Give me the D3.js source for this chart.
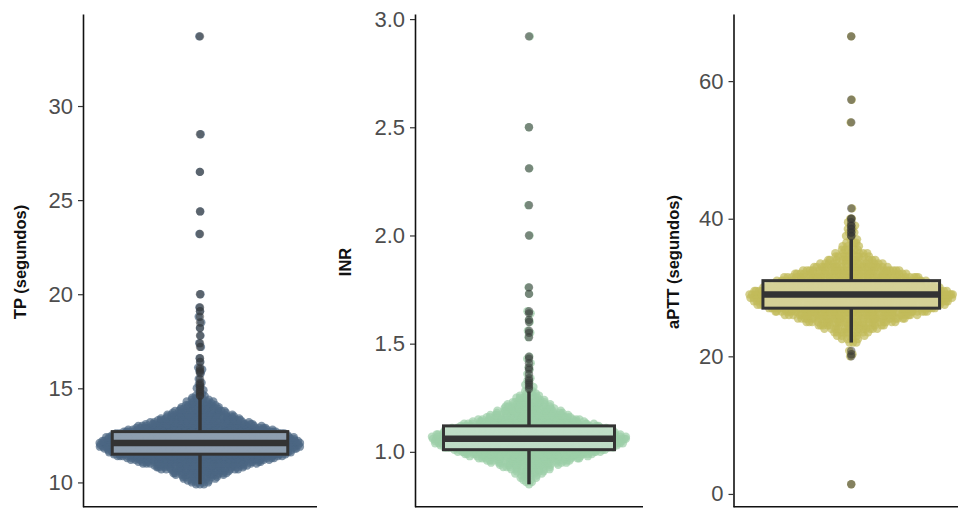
<!DOCTYPE html>
<html>
<head>
<meta charset="utf-8">
<script src="https://cdn.jsdelivr.net/npm/d3@7"></script>
<style>
  body { margin: 0; background: #fff; }
  svg { display: block; font-family: "Liberation Sans", Arial, sans-serif; }
</style>
</head>
<body>
<svg id="chart" width="958" height="509"></svg>
<script>
// ---- TP (segundos): value bins (0.1 s) with counts, plus individual high values
const tpBins = [9.9, 10.0, 10.1, 10.2, 10.3, 10.4, 10.5, 10.6, 10.7, 10.8, 10.9, 11.0, 11.1, 11.2, 11.3, 11.4,
  11.5, 11.6, 11.7, 11.8, 11.9, 12.0, 12.1, 12.2, 12.3, 12.4, 12.5, 12.6,
  12.7, 12.8, 12.9, 13.0, 13.1, 13.2, 13.3, 13.4, 13.5, 13.6, 13.7, 13.8, 13.9, 14.0, 14.1, 14.2, 14.3, 14.4, 14.5];
const tpCounts = [3, 4, 5, 6, 8, 10, 12, 14, 17, 20, 23, 27, 31, 35, 39, 44,
  46, 48, 50, 52, 54, 55, 55, 54, 52, 50, 47, 44,
  41, 37, 33, 29, 26, 23, 20, 18, 16, 14, 12, 10, 9, 8, 7, 6, 5, 4, 3];
const tpExtra = [14.6, 14.6, 14.7, 14.8, 14.9, 15.0, 15.1, 15.2, 15.3, 15.5, 15.8, 15.9, 16.0, 16.1,
  16.4, 16.6, 17.2, 17.4, 17.8, 18.2, 18.5, 18.8, 19.1, 19.3, 20.0, 23.2, 24.4, 26.5, 28.5, 33.7];
const tpTicks = [10, 15, 20, 25, 30];

// ---- INR: value bins (0.01) with counts, plus individual high values
const inrBins = [0.85, 0.86, 0.87, 0.88, 0.89, 0.90, 0.91, 0.92, 0.93, 0.94, 0.95, 0.96, 0.97, 0.98, 0.99, 1.00,
  1.01, 1.02, 1.03, 1.04, 1.05, 1.06, 1.07, 1.08, 1.09, 1.10, 1.11, 1.12,
  1.13, 1.14, 1.15, 1.16, 1.17, 1.18, 1.19, 1.20, 1.21, 1.22, 1.23, 1.24, 1.25, 1.26, 1.27, 1.28];
const inrCounts = [1, 2, 2, 3, 4, 5, 6, 8, 10, 12, 16, 20, 24, 28, 32, 36,
  40, 40, 46, 50, 52, 58, 48, 48, 46, 43, 40, 36,
  30, 26, 23, 20, 17, 15, 13, 11, 10, 9, 7, 6, 5, 4, 3, 2];
const inrExtra = [1.29, 1.30, 1.31, 1.32, 1.33, 1.34, 1.36, 1.38, 1.39, 1.41, 1.43, 1.44, 1.53, 1.55,
  1.56, 1.60, 1.61, 1.64, 1.65, 1.73, 1.76, 2.00, 2.14, 2.31, 2.50, 2.92];
const inrTicks = [1.0, 1.5, 2.0, 2.5, 3.0];

// ---- aPTT (segundos): value bins (0.5 s) with counts, plus individual low/high values
const apttBins = [22.0, 22.5, 23.0, 23.5, 24.0, 24.5, 25.0, 25.5, 26.0, 26.5, 27.0, 27.5, 28.0, 28.5,
  29.0, 29.5, 30.0, 30.5, 31.0, 31.5, 32.0, 32.5, 33.0, 33.5, 34.0, 34.5, 35.0, 35.5, 36.0, 36.5, 37.0];
const apttCounts = [3, 4, 6, 9, 13, 18, 24, 31, 39, 48, 55, 60, 64, 66,
  68, 64, 58, 52, 46, 40, 33, 27, 21, 16, 12, 9, 7, 5, 4, 3, 2];
const apttExtra = [1.4, 20.0, 20.3, 20.8, 37.5, 37.5, 38.0, 38.0, 38.5, 38.5, 39.0, 39.0, 39.5,
  40.0, 40.0, 41.5, 54.0, 57.3, 66.5];
const apttTicks = [0, 20, 40, 60];

const panels = [
  { title: "TP (segundos)", bins: tpBins, counts: tpCounts, extra: tpExtra, ticks: tpTicks,
    fmt: d3.format("d"), color: "#4b6783", left: 83, right: 317, titleX: 26 },
  { title: "INR", bins: inrBins, counts: inrCounts, extra: inrExtra, ticks: inrTicks,
    fmt: d3.format(".1f"), color: "#9ccfa8", left: 415, right: 643, titleX: 350.5 },
  { title: "aPTT (segundos)", bins: apttBins, counts: apttCounts, extra: apttExtra, ticks: apttTicks,
    fmt: d3.format("d"), color: "#c2bb5a", left: 733.5, right: 969, titleX: 678.5 }
];

const panelTop = 14, panelBottom = 506.7;
const svg = d3.select("#chart");

// van der Corput sequence (base 2) used for quasirandom horizontal offsets
function vdc(n) {
  let v = 0, denom = 1;
  while (n > 0) { denom *= 2; v += (n % 2) / denom; n = Math.floor(n / 2); }
  return v;
}

panels.forEach(p => {
  // expand bins into the full sample
  const sample = [];
  p.bins.forEach((b, i) => { for (let k = 0; k < p.counts[i]; k++) sample.push(b); });
  p.extra.forEach(v => sample.push(v));
  sample.sort(d3.ascending);
  const n = sample.length;

  // box statistics (Tukey, 1.5 IQR)
  const q1 = d3.quantile(sample, 0.25), med = d3.quantile(sample, 0.5), q3 = d3.quantile(sample, 0.75);
  const iqr = q3 - q1, eps = 1e-9;
  const loFence = q1 - 1.5 * iqr - eps, hiFence = q3 + 1.5 * iqr + eps;
  const inside = sample.filter(v => v >= loFence && v <= hiFence);
  const wLo = d3.min(inside), wHi = d3.max(inside);
  const outliers = sample.filter(v => v < loFence || v > hiFence);

  // scales
  const [mn, mx] = d3.extent(sample);
  const pad = (mx - mn) * 0.05;
  const y = d3.scaleLinear().domain([mn - pad, mx + pad]).range([panelBottom, panelTop]);
  const x = d3.scaleLinear().domain([0.4, 1.6]).range([p.left, p.right]);
  const unit = x(1) - x(0);
  const cx = x(1);

  // gaussian kernel density (nrd0 bandwidth)
  const sd = d3.deviation(sample);
  const bw = 0.9 * Math.min(sd, iqr / 1.34) * Math.pow(n, -0.2);
  const dens = v => {
    let s = 0;
    for (let i = 0; i < n; i++) { const z = (v - sample[i]) / bw; s += Math.exp(-0.5 * z * z); }
    return s;
  };
  const densCache = new Map();
  sample.forEach(v => { if (!densCache.has(v)) densCache.set(v, dens(v)); });
  const maxDens = d3.max(Array.from(densCache.values()));
  const halfW = 0.52 * unit;

  const pts = sample.map((v, i) => ({
    v,
    dx: (vdc(i + 1) * 2 - 1) * halfW * Math.pow(densCache.get(v) / maxDens, 0.85)
  }));

  const g = svg.append("g");

  // points
  g.append("g").selectAll("circle").data(pts).join("circle")
    .attr("cx", d => cx + d.dx)
    .attr("cy", d => y(d.v))
    .attr("r", 4.2)
    .attr("fill", p.color)
    .attr("fill-opacity", 0.7);

  // boxplot outliers
  g.append("g").selectAll("circle").data(outliers).join("circle")
    .attr("cx", cx).attr("cy", d => y(d)).attr("r", 4.2)
    .attr("fill", "#333333").attr("fill-opacity", 0.5);

  // whiskers
  g.append("line").attr("x1", cx).attr("x2", cx).attr("y1", y(q3)).attr("y2", y(wHi))
    .attr("stroke", "#333333").attr("stroke-width", 3.5);
  g.append("line").attr("x1", cx).attr("x2", cx).attr("y1", y(q1)).attr("y2", y(wLo))
    .attr("stroke", "#333333").attr("stroke-width", 3.5);

  // box
  const bh = 0.45 * unit;
  g.append("rect")
    .attr("x", cx - bh).attr("width", 2 * bh)
    .attr("y", y(q3)).attr("height", y(q1) - y(q3))
    .attr("fill", "#f2f2f2").attr("fill-opacity", 0.4)
    .attr("stroke", "#333333").attr("stroke-width", 3);
  g.append("line").attr("x1", cx - bh).attr("x2", cx + bh).attr("y1", y(med)).attr("y2", y(med))
    .attr("stroke", "#333333").attr("stroke-width", 6.5);

  // y axis
  const ax = g.append("g").attr("transform", `translate(${p.left},0)`)
    .call(d3.axisLeft(y).tickValues(p.ticks).tickFormat(p.fmt).tickSize(5).tickSizeOuter(0).tickPadding(5));
  ax.select(".domain").attr("stroke", "#111").attr("stroke-width", 1.6);
  ax.selectAll(".tick line").attr("stroke", "#333").attr("stroke-width", 1.2);
  ax.selectAll(".tick text").attr("fill", "#4d4d4d").attr("font-size", 22)
    .attr("font-family", "'Liberation Sans', Arial, sans-serif");

  // bottom axis line
  g.append("line").attr("x1", p.left).attr("x2", p.right).attr("y1", panelBottom).attr("y2", panelBottom)
    .attr("stroke", "#111").attr("stroke-width", 1.6);

  // axis title
  g.append("text")
    .attr("transform", `translate(${p.titleX},${262}) rotate(-90)`)
    .attr("text-anchor", "middle")
    .attr("font-size", 16.5).attr("font-weight", "bold").attr("fill", "#111")
    .text(p.title);
});
</script>
</body>
</html>
